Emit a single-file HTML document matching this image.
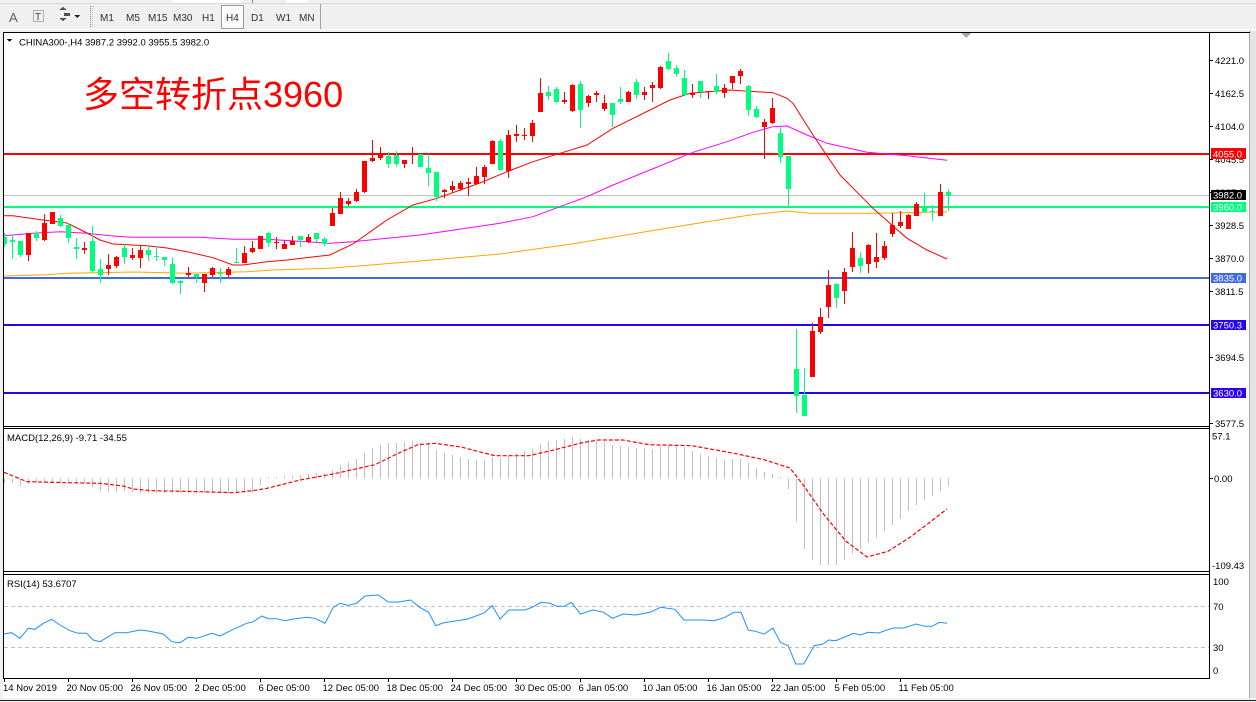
<!DOCTYPE html>
<html><head><meta charset="utf-8"><style>
html,body{margin:0;padding:0;background:#f0f0f0;overflow:hidden}
svg{display:block}
text{font-family:"Liberation Sans","Noto Sans CJK SC",sans-serif}
</style></head><body>
<svg width="1256" height="702" xmlns="http://www.w3.org/2000/svg" shape-rendering="crispEdges">
<defs><clipPath id="cm"><rect x="4" y="33" width="1205" height="393"/></clipPath>
<clipPath id="cd"><rect x="4" y="429" width="1205" height="142"/></clipPath>
<clipPath id="cr"><rect x="4" y="575" width="1205" height="103"/></clipPath></defs>
<rect width="1256" height="702" fill="#f0f0f0"/>
<!-- toolbar -->
<rect x="172" y="0" width="69" height="3" fill="#fff"/><rect x="286" y="0" width="22" height="3" fill="#fff"/>
<line x1="252.5" y1="0" x2="252.5" y2="4" stroke="#808080"/>
<line x1="0" y1="3.5" x2="1256" y2="3.5" stroke="#d8d8d8"/>
<text x="9" y="22" font-size="13" fill="#606060">A</text>
<rect x="33.5" y="10.5" width="10" height="11" fill="none" stroke="#707070" stroke-dasharray="1 1"/>
<text x="35" y="20" font-size="10" fill="#404040">T</text>
<path d="M59 10 l4 -3 l4 3 z M59 18 l4 3 l4 -3 z" fill="#505050"/>
<path d="M64 13 h6 v3 h-6z" fill="#505050"/>
<path d="M74 15 h6 l-3 3z" fill="#202020"/>
<line x1="90.5" y1="6" x2="90.5" y2="27" stroke="#808080" stroke-dasharray="1 1"/>
<line x1="92.5" y1="6" x2="92.5" y2="27" stroke="#c0c0c0" stroke-dasharray="1 1"/>
<rect x="221.5" y="5.5" width="22" height="23" fill="#fbfbfb" stroke="#9a9a9a"/>
<g font-size="10" fill="#303030">
<text x="100" y="21">M1</text><text x="126" y="21">M5</text><text x="148" y="21">M15</text><text x="173" y="21">M30</text>
<text x="202" y="21">H1</text><text x="226" y="21">H4</text><text x="251" y="21">D1</text><text x="276" y="21">W1</text><text x="299" y="21">MN</text>
</g>
<line x1="320.5" y1="4" x2="320.5" y2="29" stroke="#a0a0a0"/>
<line x1="0" y1="29.5" x2="1256" y2="29.5" stroke="#fafafa"/>
<!-- chart window -->
<rect x="3" y="32" width="1247" height="666" fill="#fff"/>
<rect x="1250" y="31" width="6" height="671" fill="#e4e4e4"/>
<line x1="1249.5" y1="31" x2="1249.5" y2="698" stroke="#a8a8a8"/>
<line x1="3" y1="32.5" x2="1250" y2="32.5" stroke="#000"/>
<line x1="3.5" y1="32" x2="3.5" y2="679" stroke="#000"/>
<line x1="1209.5" y1="32" x2="1209.5" y2="679" stroke="#000"/>
<line x1="3" y1="426.5" x2="1210" y2="426.5" stroke="#000"/>
<line x1="3" y1="428.5" x2="1210" y2="428.5" stroke="#000"/>
<line x1="3" y1="571.5" x2="1210" y2="571.5" stroke="#000"/>
<line x1="3" y1="574.5" x2="1210" y2="574.5" stroke="#000"/>
<line x1="3" y1="678.5" x2="1210" y2="678.5" stroke="#000"/>
<rect x="0" y="698" width="1256" height="4" fill="#f0f0f0"/>
<line x1="0" y1="700.5" x2="1256" y2="700.5" stroke="#202020"/>
<polygon points="961,33 971,33 966,38" fill="#a8a8a8"/>

<!-- main panel -->
<g clip-path="url(#cm)">
<line x1="4" y1="195.5" x2="1209" y2="195.5" stroke="#c0c0c0"/>
<rect x="4" y="153" width="1205" height="2" fill="#ff0000"/>
<rect x="4" y="206" width="1205" height="2" fill="#00ff7f"/>
<rect x="4" y="277" width="1205" height="2" fill="#4169e1"/>
<rect x="4" y="324" width="1205" height="2" fill="#2a00f5"/>
<rect x="4" y="392" width="1205" height="2" fill="#2a00f5"/>
<g fill="none" stroke-width="1" shape-rendering="auto">
<polyline stroke="#ffa500" points="4,276 47,274.7 67,273.3 133,272 187,273.3 247,271.7 273,270 330,268.3 420,261 500,254 570,244.3 650,231 707,221.7 750,215 787,211 810,213.3 873,213.3 947,211.7"/>
<polyline stroke="#ff00ff" points="4,235.7 33,233.3 60,231.7 87,233.3 110,235.7 133,237.3 200,237.3 233,239.3 267,239.3 330,243.3 353,241.7 420,235 500,223.3 533,216.7 560,206.7 587,196.7 613,185 650,170 693,152.3 727,141.7 753,132.3 773,126.7 787,126 807,135 827,143.3 867,152.3 907,155.7 947,160.3"/>
<polyline stroke="#ff0000" points="4,215.7 13,215.7 27,217.7 43,220 67,223 87,233 100,240 113,244 147,245.7 167,248 187,251.7 213,257.7 233,265 243,265 267,261.7 287,260 310,257.3 330,255 353,244 387,220 413,205 437,198.3 480,183 507,171.7 533,161.7 560,153.3 587,145 613,128.3 640,115 670,100 690,93.3 730,90 773,92.7 787,98.3 793,103.3 813,135 840,175 873,208.3 907,238.3 927,250 947,259"/>
</g>
<g fill="#ff0000">
<rect x="28" y="233" width="1" height="28"/><rect x="26" y="233" width="5" height="22"/>
<rect x="44" y="214" width="1" height="27"/><rect x="42" y="223" width="5" height="17"/>
<rect x="52" y="212" width="1" height="12"/><rect x="50" y="212" width="5" height="12"/>
<rect x="84" y="242" width="1" height="12"/><rect x="82" y="248" width="5" height="2"/>
<rect x="108" y="254" width="1" height="21"/><rect x="106" y="265" width="5" height="4"/>
<rect x="116" y="256" width="1" height="12"/><rect x="114" y="257" width="5" height="9"/>
<rect x="132" y="248" width="1" height="12"/><rect x="130" y="255" width="5" height="3"/>
<rect x="140" y="245" width="1" height="23"/><rect x="138" y="250" width="5" height="8"/>
<rect x="188" y="267" width="1" height="10"/><rect x="186" y="273" width="5" height="2"/>
<rect x="204" y="274" width="1" height="18"/><rect x="202" y="274" width="5" height="9"/>
<rect x="212" y="267" width="1" height="10"/><rect x="210" y="268" width="5" height="7"/>
<rect x="228" y="267" width="1" height="10"/><rect x="226" y="269" width="5" height="6"/>
<rect x="244" y="246" width="1" height="17"/><rect x="242" y="253" width="5" height="10"/>
<rect x="252" y="241" width="1" height="12"/><rect x="250" y="248" width="5" height="4"/>
<rect x="260" y="236" width="1" height="13"/><rect x="258" y="236" width="5" height="13"/>
<rect x="276" y="237" width="1" height="12"/><rect x="274" y="242" width="5" height="1"/>
<rect x="284" y="240" width="1" height="9"/><rect x="282" y="244" width="5" height="5"/>
<rect x="292" y="236" width="1" height="9"/><rect x="290" y="241" width="5" height="4"/>
<rect x="308" y="234" width="1" height="9"/><rect x="306" y="237" width="5" height="5"/>
<rect x="332" y="208" width="1" height="18"/><rect x="330" y="213" width="5" height="13"/>
<rect x="340" y="192" width="1" height="22"/><rect x="338" y="198" width="5" height="16"/>
<rect x="348" y="198" width="1" height="8"/><rect x="346" y="201" width="5" height="3"/>
<rect x="356" y="189" width="1" height="13"/><rect x="354" y="192" width="5" height="9"/>
<rect x="364" y="161" width="1" height="32"/><rect x="362" y="161" width="5" height="31"/>
<rect x="372" y="140" width="1" height="22"/><rect x="370" y="158" width="5" height="3"/>
<rect x="380" y="147" width="1" height="13"/><rect x="378" y="155" width="5" height="3"/>
<rect x="404" y="160" width="1" height="8"/><rect x="402" y="160" width="5" height="4"/>
<rect x="412" y="147" width="1" height="17"/><rect x="410" y="154" width="5" height="1"/>
<rect x="444" y="189" width="1" height="9"/><rect x="442" y="190" width="5" height="2"/>
<rect x="452" y="181" width="1" height="12"/><rect x="450" y="186" width="5" height="4"/>
<rect x="460" y="181" width="1" height="10"/><rect x="458" y="183" width="5" height="6"/>
<rect x="468" y="178" width="1" height="18"/><rect x="466" y="182" width="5" height="2"/>
<rect x="476" y="167" width="1" height="17"/><rect x="474" y="176" width="5" height="8"/>
<rect x="484" y="165" width="1" height="19"/><rect x="482" y="167" width="5" height="10"/>
<rect x="492" y="140" width="1" height="24"/><rect x="490" y="141" width="5" height="23"/>
<rect x="508" y="130" width="1" height="48"/><rect x="506" y="135" width="5" height="36"/>
<rect x="516" y="125" width="1" height="17"/><rect x="514" y="134" width="5" height="2"/>
<rect x="524" y="128" width="1" height="12"/><rect x="522" y="135" width="5" height="1"/>
<rect x="532" y="120" width="1" height="22"/><rect x="530" y="123" width="5" height="13"/>
<rect x="540" y="78" width="1" height="34"/><rect x="538" y="93" width="5" height="19"/>
<rect x="564" y="92" width="1" height="12"/><rect x="562" y="100" width="5" height="2"/>
<rect x="572" y="84" width="1" height="28"/><rect x="570" y="85" width="5" height="26"/>
<rect x="588" y="95" width="1" height="12"/><rect x="586" y="96" width="5" height="7"/>
<rect x="596" y="91" width="1" height="11"/><rect x="594" y="93" width="5" height="2"/>
<rect x="604" y="95" width="1" height="16"/><rect x="602" y="103" width="5" height="6"/>
<rect x="628" y="91" width="1" height="11"/><rect x="626" y="92" width="5" height="10"/>
<rect x="644" y="87" width="1" height="13"/><rect x="642" y="92" width="5" height="3"/>
<rect x="652" y="82" width="1" height="20"/><rect x="650" y="85" width="5" height="3"/>
<rect x="660" y="66" width="1" height="23"/><rect x="658" y="67" width="5" height="21"/>
<rect x="692" y="84" width="1" height="14"/><rect x="690" y="93" width="5" height="2"/>
<rect x="708" y="91" width="1" height="8"/><rect x="706" y="91" width="5" height="1"/>
<rect x="724" y="84" width="1" height="14"/><rect x="722" y="88" width="5" height="5"/>
<rect x="732" y="76" width="1" height="13"/><rect x="730" y="76" width="5" height="7"/>
<rect x="740" y="69" width="1" height="15"/><rect x="738" y="71" width="5" height="5"/>
<rect x="764" y="119" width="1" height="40"/><rect x="762" y="122" width="5" height="5"/>
<rect x="772" y="98" width="1" height="26"/><rect x="770" y="108" width="5" height="15"/>
<rect x="812" y="323" width="1" height="54"/><rect x="810" y="331" width="5" height="46"/>
<rect x="820" y="308" width="1" height="26"/><rect x="818" y="317" width="5" height="15"/>
<rect x="828" y="270" width="1" height="48"/><rect x="826" y="285" width="5" height="22"/>
<rect x="844" y="268" width="1" height="36"/><rect x="842" y="272" width="5" height="19"/>
<rect x="852" y="232" width="1" height="40"/><rect x="850" y="248" width="5" height="19"/>
<rect x="868" y="244" width="1" height="29"/><rect x="866" y="245" width="5" height="19"/>
<rect x="876" y="233" width="1" height="35"/><rect x="874" y="257" width="5" height="5"/>
<rect x="884" y="241" width="1" height="19"/><rect x="882" y="246" width="5" height="12"/>
<rect x="892" y="213" width="1" height="24"/><rect x="890" y="225" width="5" height="9"/>
<rect x="900" y="211" width="1" height="17"/><rect x="898" y="222" width="5" height="4"/>
<rect x="908" y="214" width="1" height="15"/><rect x="906" y="215" width="5" height="14"/>
<rect x="916" y="202" width="1" height="14"/><rect x="914" y="204" width="5" height="12"/>
<rect x="940" y="184" width="1" height="32"/><rect x="938" y="192" width="5" height="24"/>
</g>
<g fill="#00ff7f">
<rect x="4" y="233" width="1" height="14"/><rect x="2" y="237" width="5" height="7"/>
<rect x="12" y="234" width="1" height="25"/><rect x="10" y="240" width="5" height="2"/>
<rect x="20" y="241" width="1" height="16"/><rect x="18" y="241" width="5" height="14"/>
<rect x="36" y="231" width="1" height="10"/><rect x="34" y="233" width="5" height="5"/>
<rect x="60" y="215" width="1" height="12"/><rect x="58" y="218" width="5" height="8"/>
<rect x="68" y="223" width="1" height="20"/><rect x="66" y="225" width="5" height="13"/>
<rect x="76" y="238" width="1" height="21"/><rect x="74" y="247" width="5" height="2"/>
<rect x="92" y="226" width="1" height="47"/><rect x="90" y="241" width="5" height="30"/>
<rect x="100" y="259" width="1" height="24"/><rect x="98" y="269" width="5" height="6"/>
<rect x="124" y="244" width="1" height="20"/><rect x="122" y="248" width="5" height="9"/>
<rect x="148" y="247" width="1" height="14"/><rect x="146" y="250" width="5" height="5"/>
<rect x="156" y="246" width="1" height="15"/><rect x="154" y="256" width="5" height="1"/>
<rect x="164" y="257" width="1" height="9"/><rect x="162" y="257" width="5" height="3"/>
<rect x="172" y="258" width="1" height="26"/><rect x="170" y="264" width="5" height="19"/>
<rect x="180" y="280" width="1" height="14"/><rect x="178" y="281" width="5" height="2"/>
<rect x="196" y="274" width="1" height="9"/><rect x="194" y="274" width="5" height="3"/>
<rect x="220" y="268" width="1" height="15"/><rect x="218" y="273" width="5" height="1"/>
<rect x="236" y="248" width="1" height="15"/><rect x="234" y="262" width="5" height="1"/>
<rect x="268" y="232" width="1" height="15"/><rect x="266" y="233" width="5" height="10"/>
<rect x="300" y="236" width="1" height="11"/><rect x="298" y="236" width="5" height="4"/>
<rect x="316" y="233" width="1" height="9"/><rect x="314" y="233" width="5" height="6"/>
<rect x="324" y="237" width="1" height="9"/><rect x="322" y="239" width="5" height="5"/>
<rect x="388" y="152" width="1" height="16"/><rect x="386" y="156" width="5" height="8"/>
<rect x="396" y="151" width="1" height="16"/><rect x="394" y="155" width="5" height="9"/>
<rect x="420" y="154" width="1" height="13"/><rect x="418" y="154" width="5" height="13"/>
<rect x="428" y="154" width="1" height="32"/><rect x="426" y="168" width="5" height="5"/>
<rect x="436" y="172" width="1" height="29"/><rect x="434" y="172" width="5" height="25"/>
<rect x="500" y="139" width="1" height="31"/><rect x="498" y="141" width="5" height="29"/>
<rect x="548" y="86" width="1" height="14"/><rect x="546" y="92" width="5" height="4"/>
<rect x="556" y="87" width="1" height="16"/><rect x="554" y="89" width="5" height="13"/>
<rect x="580" y="81" width="1" height="47"/><rect x="578" y="84" width="5" height="26"/>
<rect x="612" y="103" width="1" height="24"/><rect x="610" y="103" width="5" height="12"/>
<rect x="620" y="87" width="1" height="17"/><rect x="618" y="99" width="5" height="3"/>
<rect x="636" y="79" width="1" height="20"/><rect x="634" y="82" width="5" height="13"/>
<rect x="668" y="53" width="1" height="17"/><rect x="666" y="61" width="5" height="8"/>
<rect x="676" y="65" width="1" height="12"/><rect x="674" y="68" width="5" height="6"/>
<rect x="684" y="70" width="1" height="26"/><rect x="682" y="78" width="5" height="17"/>
<rect x="700" y="81" width="1" height="17"/><rect x="698" y="81" width="5" height="11"/>
<rect x="716" y="74" width="1" height="20"/><rect x="714" y="86" width="5" height="6"/>
<rect x="748" y="85" width="1" height="31"/><rect x="746" y="86" width="5" height="24"/>
<rect x="756" y="106" width="1" height="12"/><rect x="754" y="109" width="5" height="8"/>
<rect x="780" y="127" width="1" height="36"/><rect x="778" y="133" width="5" height="24"/>
<rect x="788" y="156" width="1" height="51"/><rect x="786" y="156" width="5" height="33"/>
<rect x="796" y="329" width="1" height="84"/><rect x="794" y="369" width="5" height="27"/>
<rect x="804" y="368" width="1" height="48"/><rect x="802" y="395" width="5" height="21"/>
<rect x="836" y="283" width="1" height="25"/><rect x="834" y="284" width="5" height="14"/>
<rect x="860" y="252" width="1" height="21"/><rect x="858" y="258" width="5" height="8"/>
<rect x="924" y="193" width="1" height="19"/><rect x="922" y="207" width="5" height="5"/>
<rect x="932" y="205" width="1" height="16"/><rect x="930" y="211" width="5" height="1"/>
<rect x="948" y="189" width="1" height="22"/><rect x="946" y="192" width="5" height="4"/>
</g>
</g>
<polygon points="7,39 12,39 9.5,42" fill="#000"/>
<text x="19" y="45.5" font-size="9.5" fill="#000">CHINA300-,H4  3987.2 3992.0 3955.5 3982.0</text>
<text x="83" y="107" font-size="36" fill="#ff0000">多空转折点3960</text>

<!-- price axis -->
<g stroke="#000">
<line x1="1209" y1="60.5" x2="1213" y2="60.5"/><line x1="1209" y1="93.5" x2="1213" y2="93.5"/>
<line x1="1209" y1="126.5" x2="1213" y2="126.5"/><line x1="1209" y1="159.5" x2="1213" y2="159.5"/>
<line x1="1209" y1="192.5" x2="1213" y2="192.5"/><line x1="1209" y1="225.5" x2="1213" y2="225.5"/>
<line x1="1209" y1="258.5" x2="1213" y2="258.5"/><line x1="1209" y1="291.5" x2="1213" y2="291.5"/>
<line x1="1209" y1="357.5" x2="1213" y2="357.5"/><line x1="1209" y1="423.5" x2="1213" y2="423.5"/>
<line x1="1209" y1="478.5" x2="1213" y2="478.5"/>
</g>
<g font-size="9.5" fill="#000">
<text x="1215" y="64">4221.0</text><text x="1215" y="97">4162.5</text><text x="1215" y="130">4104.0</text>
<text x="1215" y="163">4045.5</text><text x="1215" y="196">3987.0</text><text x="1215" y="229">3928.5</text>
<text x="1215" y="262">3870.0</text><text x="1215" y="295">3811.5</text>
<text x="1215" y="361">3694.5</text><text x="1215" y="427">3577.5</text>
</g>
<rect x="1211" y="148" width="35" height="11" fill="#ff0000"/>
<rect x="1211" y="190" width="35" height="10" fill="#000"/>
<rect x="1211" y="202" width="35" height="10" fill="#00ff7f"/>
<rect x="1211" y="273" width="35" height="10" fill="#4169e1"/>
<rect x="1211" y="320" width="35" height="10" fill="#2a00f5"/>
<rect x="1211" y="388" width="35" height="10" fill="#2a00f5"/>
<g font-size="9.5" fill="#fff">
<text x="1213" y="157.5">4055.0</text><text x="1213" y="198.5">3982.0</text><text x="1213" y="210.5">3960.0</text>
<text x="1213" y="281.5">3835.0</text><text x="1213" y="328.5">3750.3</text><text x="1213" y="396.5">3630.0</text>
</g>

<!-- MACD -->
<g clip-path="url(#cd)">
<path stroke="#c0c0c0" stroke-width="1" fill="none" d="M4.5 478.5V483M12.5 478.5V483M20.5 478.5V486M28.5 478.5V484M36.5 478.5V483M44.5 478.5V483M52.5 478.5V483M60.5 478.5V483M68.5 478.5V483M76.5 478.5V483M84.5 478.5V483M92.5 478.5V487M100.5 478.5V491M108.5 478.5V492M116.5 478.5V492M124.5 478.5V491M132.5 478.5V492M140.5 478.5V493M148.5 478.5V493M156.5 478.5V493M164.5 478.5V493M172.5 478.5V493M180.5 478.5V493M188.5 478.5V493M196.5 478.5V493M204.5 478.5V493M212.5 478.5V493M220.5 478.5V493M228.5 478.5V493M236.5 478.5V493M244.5 478.5V493M252.5 478.5V493M260.5 478.5V485M268.5 478.5V477M276.5 478.5V477M284.5 478.5V476M292.5 478.5V476M300.5 478.5V475M308.5 478.5V474M316.5 478.5V473M324.5 478.5V473M332.5 478.5V470M340.5 478.5V465M348.5 478.5V462M356.5 478.5V459M364.5 478.5V453M372.5 478.5V448M380.5 478.5V445M388.5 478.5V443M396.5 478.5V443M404.5 478.5V442M412.5 478.5V441M420.5 478.5V443M428.5 478.5V444M436.5 478.5V450M444.5 478.5V453M452.5 478.5V455M460.5 478.5V457M468.5 478.5V459M476.5 478.5V460M484.5 478.5V460M492.5 478.5V457M500.5 478.5V458M508.5 478.5V456M516.5 478.5V453M524.5 478.5V451M532.5 478.5V449M540.5 478.5V444M548.5 478.5V441M556.5 478.5V440M564.5 478.5V439M572.5 478.5V437M580.5 478.5V439M588.5 478.5V440M596.5 478.5V441M604.5 478.5V442M612.5 478.5V445M620.5 478.5V446M628.5 478.5V447M636.5 478.5V448M644.5 478.5V448M652.5 478.5V449M660.5 478.5V446M668.5 478.5V446M676.5 478.5V446M684.5 478.5V447M692.5 478.5V451M700.5 478.5V454M708.5 478.5V456M716.5 478.5V458M724.5 478.5V460M732.5 478.5V459M740.5 478.5V459M748.5 478.5V463M756.5 478.5V468M764.5 478.5V472M772.5 478.5V474M780.5 478.5V477M788.5 478.5V489M796.5 478.5V522M804.5 478.5V549M812.5 478.5V560M820.5 478.5V565M828.5 478.5V565M836.5 478.5V565M844.5 478.5V560M852.5 478.5V554M860.5 478.5V549M868.5 478.5V543M876.5 478.5V538M884.5 478.5V531M892.5 478.5V525M900.5 478.5V519M908.5 478.5V511M916.5 478.5V505M924.5 478.5V500M932.5 478.5V496M940.5 478.5V491M948.5 478.5V486"/>
<polyline fill="none" stroke="#ff0000" stroke-width="1.2" stroke-dasharray="4 2" shape-rendering="auto" points="4,472.3 13,476 27,481.7 67,482.7 100,483.3 123,486 133,489 153,490.7 200,491.7 233,492.7 253,490.7 267,488.3 287,483.3 300,480 333,474 375,464.7 401,452 418,444.7 435,443.3 461,447 495,455.7 529,455.7 555,449.7 581,443 598,440 623,440 649,444.7 692,445.7 734,453.3 764,459.7 790,468 803,484.7 824,514.7 846,541.3 867,557 888,551.3 910,537.3 931,521.3 947,509"/>
</g>
<text x="7" y="441" font-size="9.5" fill="#000">MACD(12,26,9) -9.71 -34.55</text>
<g font-size="9.5" fill="#000">
<text x="1212" y="439.5">57.1</text><text x="1214" y="482">0.00</text><text x="1212" y="569">-109.43</text>
</g>

<!-- RSI -->
<g clip-path="url(#cr)">
<line x1="4" y1="606.5" x2="1209" y2="606.5" stroke="#c0c0c0" stroke-dasharray="4 3"/>
<line x1="4" y1="647.5" x2="1209" y2="647.5" stroke="#c0c0c0" stroke-dasharray="4 3"/>
<polyline fill="none" stroke="#1e90ff" stroke-width="1" shape-rendering="auto" points="3.3,634 11.7,632.7 20,638.3 28.3,628.3 35,629.3 43.3,623.3 51.7,619.3 60,625 70,630.7 78.3,633.3 86.7,633.3 93.3,640 100,641.7 115,632.7 126.7,632.7 140,630 146.7,630.7 163.3,634 171.7,641.7 180,642.7 188.3,637.3 196.7,638.3 211.7,633.3 220,636 233.3,629.3 246.7,623.3 253.3,621.7 261.7,616 268.3,618.7 276.7,618.7 285,620.7 293.3,619 306.7,617.3 315,618.3 325,623.3 333.3,607.3 340,603.3 348.3,605.3 356.7,603.3 365,596 378.3,595 388.3,602 398.3,602 410.7,600 419.6,607.3 428.6,612.3 435.7,625.7 442.9,623 453.6,621.3 467.9,619 483.9,613 492.1,605.7 500,619 508.9,610 525,610 532.1,607.3 541.1,602.3 550,603.3 557.1,606.3 564.3,606.3 571.4,602.3 580.4,614 592.9,610 603.6,612.3 612.5,618.3 623.2,614 635.7,615 650,612.3 660.7,607.3 675,609.3 683.9,620 703.6,620 714.3,620.7 725,617.3 733.9,612.3 741.1,612.3 748.2,630 755.4,631.3 764.3,634 772.9,628 780.4,642.3 788.2,645.7 795.7,664 803.6,664 814.3,645.7 823.2,644 828.6,640 835.7,640.7 853.6,633.3 860.7,635 867.9,632.3 878.6,633 892.9,628 903.6,628 916.1,624 925,626.3 932.1,626.3 939.3,622.3 947.1,623.3"/>
</g>
<text x="7" y="587" font-size="9.5" fill="#000">RSI(14) 53.6707</text>
<g font-size="9.5" fill="#000">
<text x="1213" y="585">100</text><text x="1213" y="610">70</text><text x="1213" y="651">30</text><text x="1213" y="674">0</text>
</g>

<!-- time axis -->
<g stroke="#000">
<line x1="4.5" y1="678" x2="4.5" y2="682"/><line x1="68.5" y1="678" x2="68.5" y2="682"/><line x1="132.5" y1="678" x2="132.5" y2="682"/>
<line x1="196.5" y1="678" x2="196.5" y2="682"/><line x1="260.5" y1="678" x2="260.5" y2="682"/><line x1="324.5" y1="678" x2="324.5" y2="682"/>
<line x1="388.5" y1="678" x2="388.5" y2="682"/><line x1="452.5" y1="678" x2="452.5" y2="682"/><line x1="516.5" y1="678" x2="516.5" y2="682"/>
<line x1="580.5" y1="678" x2="580.5" y2="682"/><line x1="644.5" y1="678" x2="644.5" y2="682"/><line x1="708.5" y1="678" x2="708.5" y2="682"/>
<line x1="772.5" y1="678" x2="772.5" y2="682"/><line x1="836.5" y1="678" x2="836.5" y2="682"/><line x1="900.5" y1="678" x2="900.5" y2="682"/>
</g>
<g font-size="9.5" fill="#000">
<text x="3" y="691">14 Nov 2019</text><text x="66.5" y="691">20 Nov 05:00</text><text x="130.5" y="691">26 Nov 05:00</text>
<text x="194.5" y="691">2 Dec 05:00</text><text x="258.5" y="691">6 Dec 05:00</text><text x="322.5" y="691">12 Dec 05:00</text>
<text x="386.5" y="691">18 Dec 05:00</text><text x="450.5" y="691">24 Dec 05:00</text><text x="514.5" y="691">30 Dec 05:00</text>
<text x="578.5" y="691">6 Jan 05:00</text><text x="642.5" y="691">10 Jan 05:00</text><text x="706.5" y="691">16 Jan 05:00</text>
<text x="770.5" y="691">22 Jan 05:00</text><text x="834.5" y="691">5 Feb 05:00</text><text x="898.5" y="691">11 Feb 05:00</text>
</g>
</svg>
</body></html>
